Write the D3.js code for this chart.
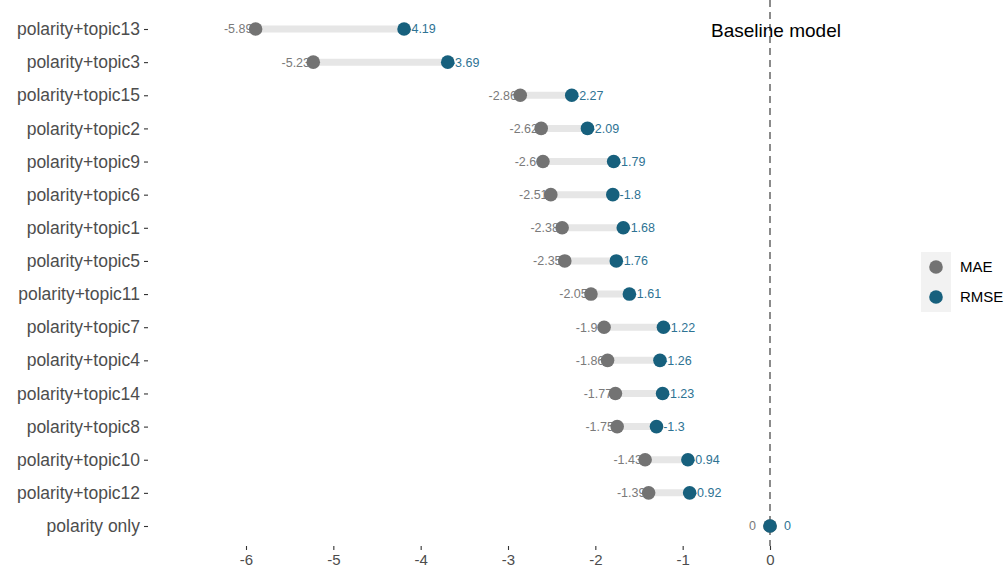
<!DOCTYPE html>
<html>
<head>
<meta charset="utf-8">
<script src="https://cdn.jsdelivr.net/npm/d3@7"></script>
<style>
  html, body { margin: 0; padding: 0; background: #fff; }
  svg { display: block; font-family: "Liberation Sans", Arial, Helvetica, sans-serif; }
</style>
</head>
<body>
<svg id="chart" width="1004" height="569"></svg>
<script>
// ---- data ----
const categories = [
  "polarity+topic13", "polarity+topic3", "polarity+topic15", "polarity+topic2",
  "polarity+topic9", "polarity+topic6", "polarity+topic1", "polarity+topic5",
  "polarity+topic11", "polarity+topic7", "polarity+topic4", "polarity+topic14",
  "polarity+topic8", "polarity+topic10", "polarity+topic12", "polarity only"
];
const maeValues  = [-5.89, -5.23, -2.86, -2.62, -2.6, -2.51, -2.38, -2.35, -2.05, -1.9, -1.86, -1.77, -1.75, -1.43, -1.39, 0];
const rmseValues = [-4.19, -3.69, -2.27, -2.09, -1.79, -1.8, -1.68, -1.76, -1.61, -1.22, -1.26, -1.23, -1.3, -0.94, -0.92, 0];
const xTicks = [-6, -5, -4, -3, -2, -1, 0];
const seriesNames = ["MAE", "RMSE"];
const seriesColors = ["#737373", "#17607d"];
const labelColors = ["#7a7a7a", "#2e7393"];
const annotationText = "Baseline model";

// ---- layout ----
const svg = d3.select("#chart");
const panel = { left: 148, right: 905, top: 0, bottom: 546 };

const x = d3.scaleLinear().domain([-6, 0]).range([246, 770]);
const y = d3.scalePoint().domain(categories).range([29, 526]);

const rows = categories.map((c, i) => ({ cat: c, mae: maeValues[i], rmse: rmseValues[i] }));

// vertical dashed baseline
svg.append("line")
  .attr("x1", x(0)).attr("x2", x(0))
  .attr("y1", panel.top).attr("y2", panel.bottom)
  .attr("stroke", "#5a5a5a").attr("stroke-width", 1.4)
  .attr("stroke-dasharray", "7,5");

// segments
svg.append("g").selectAll("line").data(rows).join("line")
  .attr("x1", d => x(d.mae)).attr("x2", d => x(d.rmse))
  .attr("y1", d => y(d.cat)).attr("y2", d => y(d.cat))
  .attr("stroke", "#e6e6e6").attr("stroke-width", 7);

// labels (drawn beneath points)
const nudge = 0.2;
const fmt = v => String(v);
svg.append("g").selectAll("text").data(rows).join("text")
  .attr("x", d => x(d.mae) - nudge * (x(1) - x(0)))
  .attr("y", d => y(d.cat))
  .attr("dy", "0.35em")
  .attr("text-anchor", "middle")
  .attr("font-size", 12.5)
  .attr("fill", labelColors[0])
  .text(d => fmt(d.mae));
svg.append("g").selectAll("text").data(rows).join("text")
  .attr("x", d => x(d.rmse) + nudge * (x(1) - x(0)))
  .attr("y", d => y(d.cat))
  .attr("dy", "0.35em")
  .attr("text-anchor", "middle")
  .attr("font-size", 12.5)
  .attr("fill", labelColors[1])
  .text(d => fmt(d.rmse));

// points
svg.append("g").selectAll("circle").data(rows).join("circle")
  .attr("cx", d => x(d.mae)).attr("cy", d => y(d.cat)).attr("r", 6.8)
  .attr("fill", seriesColors[0]);
svg.append("g").selectAll("circle").data(rows).join("circle")
  .attr("cx", d => x(d.rmse)).attr("cy", d => y(d.cat)).attr("r", 6.8)
  .attr("fill", seriesColors[1]);

// annotation
svg.append("text")
  .attr("x", x(0) + 6).attr("y", 30)
  .attr("dy", "0.35em")
  .attr("text-anchor", "middle")
  .attr("font-size", 19)
  .attr("fill", "#000")
  .text(annotationText);

// axes
const xAxis = d3.axisBottom(x).tickValues(xTicks).tickSize(4).tickPadding(4)
  .tickFormat(d => String(d));
const gx = svg.append("g").attr("transform", `translate(0,${panel.bottom})`).call(xAxis);
gx.select(".domain").remove();
gx.selectAll("line").attr("stroke", "#333").attr("stroke-width", 1.1);
gx.selectAll("text").attr("font-size", 15).attr("fill", "#4d4d4d").attr("font-family", null);

const yAxis = d3.axisLeft(y).tickSize(4).tickPadding(4);
const gy = svg.append("g").attr("transform", `translate(${panel.left},0)`).call(yAxis);
gy.select(".domain").remove();
gy.selectAll("line").attr("stroke", "#333").attr("stroke-width", 1.1);
gy.selectAll("text").attr("font-size", 17.5).attr("fill", "#4d4d4d").attr("font-family", null);

// legend
const legend = svg.append("g").attr("transform", "translate(921,252)");
seriesNames.forEach((name, i) => {
  const g = legend.append("g").attr("transform", `translate(0,${i * 30})`);
  g.append("rect").attr("width", 30).attr("height", 30).attr("fill", "#f2f2f2");
  g.append("circle").attr("cx", 15).attr("cy", 15).attr("r", 6.8).attr("fill", seriesColors[i]);
  g.append("text").attr("x", 39).attr("y", 15).attr("dy", "0.35em")
    .attr("font-size", 15).attr("fill", "#000").text(name);
});
</script>
</body>
</html>
